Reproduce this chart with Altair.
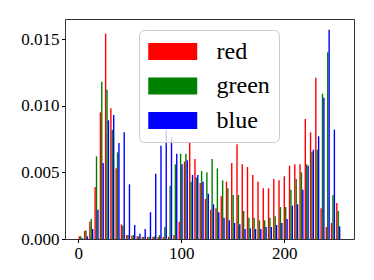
import altair as alt
import pandas as pd

n_bins = 50
range_lo, range_hi = 0, 255
channels = ["red", "green", "blue"]
colors = ["#ff0000", "#008000", "#0000ff"]

red = [0.0002, 0.0006, 0.0013, 0.0039, 0.0095, 0.0154, 0.0098, 0.0053, 0.0011, 0.0003,
       0.00025, 0.0002, 0.00015, 0.00015, 0.00015, 0.00015, 0.00015, 0.00017, 0.0003, 0.0013,
       0.0058, 0.0072, 0.0060, 0.0042, 0.0030, 0.0022, 0.0023, 0.0032, 0.0043, 0.0057,
       0.0071, 0.0056, 0.0054, 0.0048, 0.0043, 0.0038, 0.0038, 0.0045, 0.0044, 0.0047,
       0.0055, 0.0056, 0.0056, 0.0090, 0.0080, 0.0121, 0.0023, 0.0009, 0.0012, 0.0027]
green = [0.0002, 0.00065, 0.0015, 0.0062, 0.0118, 0.0112, 0.0082, 0.0065, 0.0010, 0.0003,
         0.0003, 0.0002, 0.00017, 0.00017, 0.0002, 0.0003, 0.0009, 0.0040, 0.0056, 0.0064,
         0.0064, 0.0043, 0.0046, 0.0051, 0.0050, 0.0060, 0.0053, 0.0044, 0.0038, 0.0033,
         0.0033, 0.0021, 0.0016, 0.0016, 0.0014, 0.0014, 0.0016, 0.0017, 0.0024, 0.0024,
         0.0037, 0.0045, 0.0050, 0.0056, 0.0065, 0.0067, 0.0109, 0.0140, 0.0033, 0.0021]
blue = [0.00005, 0.0002, 0.00075, 0.0022, 0.0057, 0.0089, 0.0093, 0.0072, 0.0080, 0.0041,
        0.00105, 0.0004, 0.00075, 0.0020, 0.0049, 0.0070, 0.0082, 0.0076, 0.0064, 0.0056,
        0.0059, 0.0048, 0.0048, 0.0043, 0.0034, 0.0026, 0.0020, 0.0016, 0.0014, 0.0012,
        0.0011, 0.00075, 0.0008, 0.00075, 0.00075, 0.0009, 0.0009, 0.00105, 0.0012, 0.0015,
        0.0025, 0.0026, 0.0037, 0.0055, 0.0067, 0.0077, 0.0106, 0.0157, 0.0082, 0.00095]

x_ticks = [0, 100, 200]
y_ticks = [0.0, 0.005, 0.010, 0.015]

# matplotlib-style grouped histogram geometry
bin_w = (range_hi - range_lo) / n_bins
bar_w = 0.8 * bin_w / len(channels)
rows = []
for j, (name, vals) in enumerate(zip(channels, [red, green, blue])):
    for i, v in enumerate(vals):
        c = range_lo + (i + 0.5) * bin_w + (j - 1) * bar_w
        rows.append({"channel": name, "x0": c - bar_w / 2, "x1": c + bar_w / 2, "density": v})
df = pd.DataFrame(rows)

margin = 0.05 * (range_hi - range_lo)
font = "Liberation Serif"

chart = alt.Chart(df).mark_rect().encode(
    x=alt.X("x0:Q",
            scale=alt.Scale(domain=[range_lo - margin, range_hi + margin], nice=False, zero=False),
            axis=alt.Axis(values=x_ticks, format="d", title=None, grid=False, labelFlush=False)),
    x2="x1:Q",
    y=alt.Y("density:Q",
            scale=alt.Scale(domain=[0, 0.0165], nice=False),
            axis=alt.Axis(values=y_ticks, format=".3f", title=None, grid=False)),
    y2=alt.datum(0),
    color=alt.Color("channel:N",
                    scale=alt.Scale(domain=channels, range=colors),
                    legend=alt.Legend(
                        title=None, orient="none", legendX=74, legendY=11,
                        symbolType="M-1,-0.7H3V0.7H-1Z", symbolSize=600,
                        symbolStrokeWidth=0, symbolOpacity=1,
                        labelFont=font, labelFontSize=24, labelColor="black",
                        labelOffset=43.5, padding=9, rowPadding=9.5,
                        strokeColor="#cccccc", fillColor="rgba(255,255,255,0.8)",
                        cornerRadius=5, zindex=1)),
).properties(
    width=289, height=220,
    autosize=alt.AutoSizeParams(type="none"),
    padding={"left": 57, "top": 11, "right": 10, "bottom": 30},
).configure_view(
    stroke="#333333", strokeWidth=1
).configure_axis(
    labelFont=font, labelFontSize=17, labelColor="black",
    tickColor="black", tickSize=3.5, tickWidth=1, labelPadding=2.5,
    domain=False,
)

chart.save("out.html", embed_options={"renderer": "svg", "actions": False})
